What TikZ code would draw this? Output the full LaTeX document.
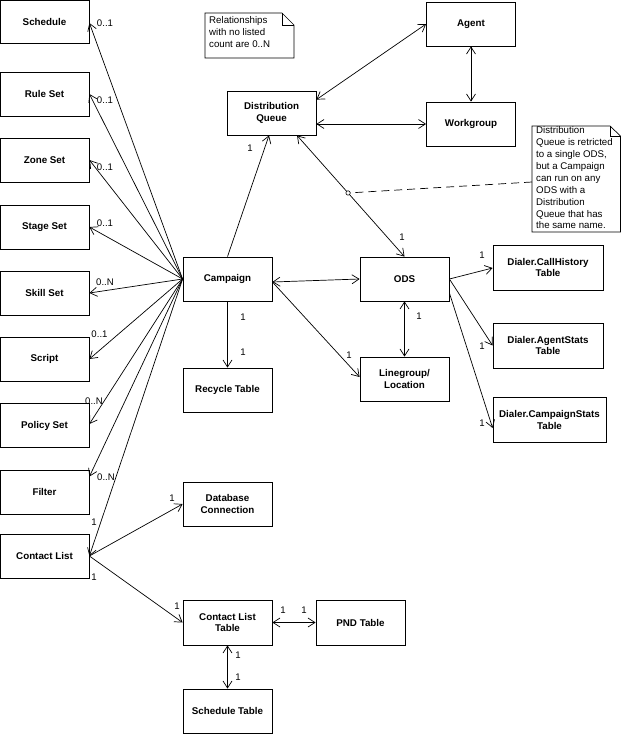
\documentclass[tikz,border=0pt]{standalone}
\usepackage{fontspec}
\setmainfont{Liberation Sans}
\usetikzlibrary{arrows.meta,calc}
\begin{document}
\begin{tikzpicture}[x=1pt,y=-1pt,
  box/.style={draw, line width=0.8pt, minimum width=89pt, minimum height=44pt, inner sep=1pt,
    font=\bfseries\fontsize{9.8}{11.7}\selectfont, align=center},
  wbox/.style={box, minimum width=110pt, minimum height=45pt},
  lbl/.style={font=\fontsize{9.6}{11.5}\selectfont, inner sep=0pt},
  notetext/.style={font=\fontsize{9.7}{11.9}\selectfont, inner sep=0pt, align=left, anchor=north west},
  conn/.style={line width=0.7pt},
  >={Straight Barb[length=7pt,width=9pt]}]
\useasboundingbox (0,0) rectangle (621,734);

% left column
\node[box, minimum height=43pt] (sched) at (44.5,21.5) {Schedule};
\node[box] (rule) at (44.5,94) {Rule Set};
\node[box] (zone) at (44.5,160) {Zone Set};
\node[box] (stage) at (44.5,227) {Stage Set};
\node[box] (skill) at (44.5,293) {Skill Set};
\node[box] (script) at (44.5,359) {Script};
\node[box] (policy) at (44.5,425.5) {Policy Set};
\node[box] (filter) at (44.5,492) {Filter};
\node[box] (clist) at (44.5,556) {Contact List};

% middle
\node[box] (campaign) at (227.5,279) {Campaign};
\node[box] (recycle) at (227.5,390) {Recycle Table};
\node[box] (dq) at (271.5,113) {Distribution\\Queue};
\node[box] (dbconn) at (227.5,504) {Database\\Connection};
\node[box, minimum height=45pt] (clt) at (227.5,622.5) {Contact List\\Table};
\node[box, minimum height=45pt] (pnd) at (360.5,622.5) {PND Table};
\node[box] (schedtable) at (227.5,711) {Schedule Table};

% right
\node[box] (ods) at (404.5,279) {ODS};
\node[box] (linegroup) at (404.5,379) {Linegroup/\\Location};
\node[box] (agent) at (471,24) {Agent};
\node[box] (workgroup) at (471,124) {Workgroup};
\node[wbox] (callhist) at (548,267.5) {Dialer.CallHistory\\Table};
\node[wbox] (agentstats) at (548,345.5) {Dialer.AgentStats\\Table};
\node[wbox, minimum width=113pt] (campstats) at (549.5,420) {Dialer.CampaignStats\\Table};

% notes
\draw[line width=0.7pt] (205,13) -- (282,13) -- (294,25) -- (294,58) -- (205,58) -- cycle;
\draw[line width=0.7pt] (282,13) -- (282,25) -- (294,25);
\node[notetext] (note1) at (209,16) {Relationships\\with no listed\\count are 0..N};
\draw[line width=0.7pt] (532,126) -- (610,126) -- (620.5,136) -- (620.5,232) -- (532,232) -- cycle;
\draw[line width=0.7pt] (610,126) -- (610,136) -- (620.5,136);
\node[notetext] (note2) at (536,126.5) {Distribution\\Queue is retricted\\to a single ODS,\\but a Campaign\\can run on any\\ODS with a\\Distribution\\Queue that has\\the same name.};
\coordinate (n2w) at (532,182);

% connectors from Campaign to left column
\draw[conn,->] (campaign.west) -- ($(sched.east)+(0,1.5)$);
\draw[conn,->] (campaign.west) -- (rule.east);
\draw[conn,->] (campaign.west) -- (zone.east);
\draw[conn,->] (campaign.west) -- (stage.east);
\draw[conn,->] (campaign.west) -- (skill.east);
\draw[conn,->] (campaign.west) -- (script.east);
\draw[conn,->] (campaign.west) -- ($(policy.east)+(0,-1.5)$);
\draw[conn,->] (campaign.west) -- ($(filter.north east)+(0,7)$);
\draw[conn,->] (campaign.west) -- (clist.east);

% contact list
\draw[conn,->] (clist.east) -- (dbconn.west);
\draw[conn,->] (clist.east) -- (clt.west);
\draw[conn,<->] (clt.east) -- (pnd.west);
\draw[conn,<->] (clt.south) -- (schedtable.north);

% campaign others
\draw[conn,->] (campaign.south) -- (recycle.north);
\draw[conn,->] (campaign.north) -- ($(dq.south)+(-2.5,0)$);
\draw[conn,<->] ($(campaign.east)+(0,3)$) -- (ods.west);
\draw[conn,->] ($(campaign.east)+(0,3)$) -- ($(linegroup.west)+(0,-2)$);

% DQ
\draw[conn,<->] ($(dq.south)+(25.5,0)$) -- coordinate[pos=0.475] (dqmid) (ods.north);
\draw[conn,<->] ($(dq.north east)+(0,9)$) -- (agent.west);
\draw[conn,<->] ($(dq.east)+(0,11)$) -- (workgroup.west);
\draw[conn,<->] (agent.south) -- (workgroup.north);
\draw[line width=0.7pt, dash pattern=on 8pt off 5pt] (n2w) -- (dqmid);
\draw[line width=0.6pt, fill=white] (dqmid) circle (2.2pt);

% ODS
\draw[conn,<->] (ods.south) -- (linegroup.north);
\draw[conn,->] (ods.east) -- ($(callhist.west)+(0,0.5)$);
\draw[conn,->] (ods.east) -- (agentstats.west);
\draw[conn,->] ($(ods.east)+(0,14)$) -- ($(campstats.west)+(0,8)$);

% multiplicity labels
\node[lbl] (m1) at (105,23) {0..1};
\node[lbl] (m2) at (105,100) {0..1};
\node[lbl] (m3) at (105,167) {0..1};
\node[lbl] (m4) at (105,223) {0..1};
\node[lbl] (m5) at (105,282) {0..N};
\node[lbl] (m6) at (99.5,334) {0..1};
\node[lbl] (m7) at (94,401) {0..N};
\node[lbl] (m8) at (106,477) {0..N};
\node[lbl] (m9) at (94,522) {1};
\node[lbl] (m10) at (94,577) {1};
\node[lbl] (m11) at (172,498) {1};
\node[lbl] (m12) at (177,606) {1};
\node[lbl] (m13) at (283,610) {1};
\node[lbl] (m14) at (304,610) {1};
\node[lbl] (m15) at (238,655) {1};
\node[lbl] (m16) at (238,677) {1};
\node[lbl] (m17) at (250,148) {1};
\node[lbl] (m18) at (243,317) {1};
\node[lbl] (m19) at (243,352) {1};
\node[lbl] (m20) at (349,355) {1};
\node[lbl] (m21) at (419,316) {1};
\node[lbl] (m22) at (402,237) {1};
\node[lbl] (m23) at (482,255) {1};
\node[lbl] (m24) at (482,346) {1};
\node[lbl] (m25) at (482,423) {1};
\end{tikzpicture}
\end{document}
